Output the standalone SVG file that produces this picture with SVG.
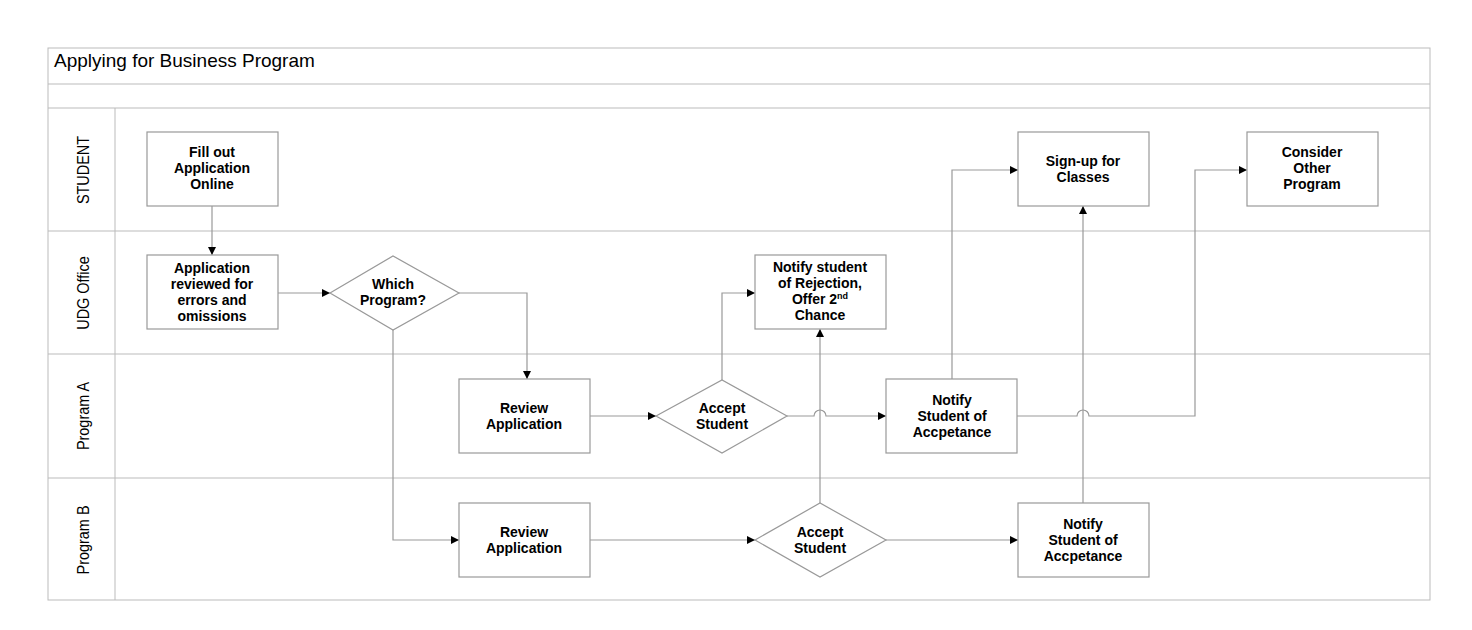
<svg xmlns="http://www.w3.org/2000/svg" width="1472" height="630" viewBox="0 0 1472 630">
<style>
.frame{fill:none;stroke:#bbb;stroke-width:1}
.box{fill:#fff;stroke:#999;stroke-width:1.2}
.t{font-family:"Liberation Sans",Arial,sans-serif;font-size:14px;font-weight:bold;text-anchor:middle;fill:#000}
.lane{font-family:"Liberation Sans",Arial,sans-serif;font-size:17px;text-anchor:middle;fill:#000}
.c{fill:none;stroke:#999;stroke-width:1.2}
</style>
<defs><marker id="a" viewBox="0 0 10 10" refX="10" refY="5" markerWidth="8" markerHeight="8" markerUnits="userSpaceOnUse" orient="auto"><path d="M0,0L10,5L0,10z" fill="#000"/></marker></defs>
<rect width="1472" height="630" fill="#fff"/>
<g id="pool">
<rect class="frame" x="48" y="48" width="1382" height="552"/>
<line class="frame" x1="48" y1="84" x2="1430" y2="84"/>
<line class="frame" x1="48" y1="108" x2="1430" y2="108"/>
<line class="frame" x1="48" y1="231" x2="1430" y2="231"/>
<line class="frame" x1="48" y1="354" x2="1430" y2="354"/>
<line class="frame" x1="48" y1="478" x2="1430" y2="478"/>
<line class="frame" x1="115" y1="108" x2="115" y2="600"/>
<text x="54" y="67" font-family="Liberation Sans,Arial,sans-serif" font-size="19">Applying for Business Program</text>
<text class="lane" transform="translate(89,170) rotate(-90) scale(0.85,1)">STUDENT</text>
<text class="lane" transform="translate(89,293) rotate(-90) scale(0.85,1)">UDG Office</text>
<text class="lane" transform="translate(89,416) rotate(-90) scale(0.85,1)">Program A</text>
<text class="lane" transform="translate(89,540) rotate(-90) scale(0.85,1)">Program B</text>
</g>
<g id="connectors">
<path class="c" d="M212,206V255" marker-end="url(#a)"/>
<path class="c" d="M278,293H330" marker-end="url(#a)"/>
<path class="c" d="M459,293H527V379" marker-end="url(#a)"/>
<path class="c" d="M393,330V540H459" marker-end="url(#a)"/>
<path class="c" d="M590,416H656" marker-end="url(#a)"/>
<path class="c" d="M722,380V293H755" marker-end="url(#a)"/>
<path class="c" d="M787,416H814a6,6 0 0 1 12,0H886" marker-end="url(#a)"/>
<path class="c" d="M820,503V329" marker-end="url(#a)"/>
<path class="c" d="M590,540H755" marker-end="url(#a)"/>
<path class="c" d="M886,540H1018" marker-end="url(#a)"/>
<path class="c" d="M952,379V170H1018" marker-end="url(#a)"/>
<path class="c" d="M1083,503V206" marker-end="url(#a)"/>
<path class="c" d="M1017,416H1077a6,6 0 0 1 12,0H1195V170H1247" marker-end="url(#a)"/>
</g>
<g id="fill"><rect class="box" x="147" y="132" width="131" height="74"/><text class="t" x="212" y="157">Fill out<tspan x="212" dy="16">Application</tspan><tspan x="212" dy="16">Online</tspan></text></g>
<g id="reviewed"><rect class="box" x="147" y="255" width="131" height="74"/><text class="t" x="212" y="273">Application<tspan x="212" dy="16">reviewed for</tspan><tspan x="212" dy="16">errors and</tspan><tspan x="212" dy="16">omissions</tspan></text></g>
<g id="which"><path class="box" d="M330,293L393,256L459,293L393,330z"/><text class="t" x="393" y="289">Which<tspan x="393" dy="16">Program?</tspan></text></g>
<g id="reviewA"><rect class="box" x="459" y="379" width="131" height="74"/><text class="t" x="524" y="413">Review<tspan x="524" dy="16">Application</tspan></text></g>
<g id="acceptA"><path class="box" d="M656,416L722,380L787,416L722,453z"/><text class="t" x="722" y="413">Accept<tspan x="722" dy="16">Student</tspan></text></g>
<g id="reject"><rect class="box" x="755" y="255" width="131" height="74"/><text class="t" x="820" y="272">Notify student<tspan x="820" dy="16">of Rejection,</tspan><tspan x="820" dy="16">Offer 2<tspan font-size="9" dy="-5">nd</tspan></tspan><tspan x="820" dy="21">Chance</tspan></text></g>
<g id="notifyA"><rect class="box" x="886" y="379" width="131" height="74"/><text class="t" x="952" y="405">Notify<tspan x="952" dy="16">Student of</tspan><tspan x="952" dy="16">Accpetance</tspan></text></g>
<g id="signup"><rect class="box" x="1018" y="132" width="131" height="74"/><text class="t" x="1083" y="166">Sign-up for<tspan x="1083" dy="16">Classes</tspan></text></g>
<g id="consider"><rect class="box" x="1247" y="132" width="131" height="74"/><text class="t" x="1312" y="157">Consider<tspan x="1312" dy="16">Other</tspan><tspan x="1312" dy="16">Program</tspan></text></g>
<g id="reviewB"><rect class="box" x="459" y="503" width="131" height="74"/><text class="t" x="524" y="537">Review<tspan x="524" dy="16">Application</tspan></text></g>
<g id="acceptB"><path class="box" d="M755,540L820,503L886,540L820,577z"/><text class="t" x="820" y="537">Accept<tspan x="820" dy="16">Student</tspan></text></g>
<g id="notifyB"><rect class="box" x="1018" y="503" width="131" height="74"/><text class="t" x="1083" y="529">Notify<tspan x="1083" dy="16">Student of</tspan><tspan x="1083" dy="16">Accpetance</tspan></text></g>
</svg>
